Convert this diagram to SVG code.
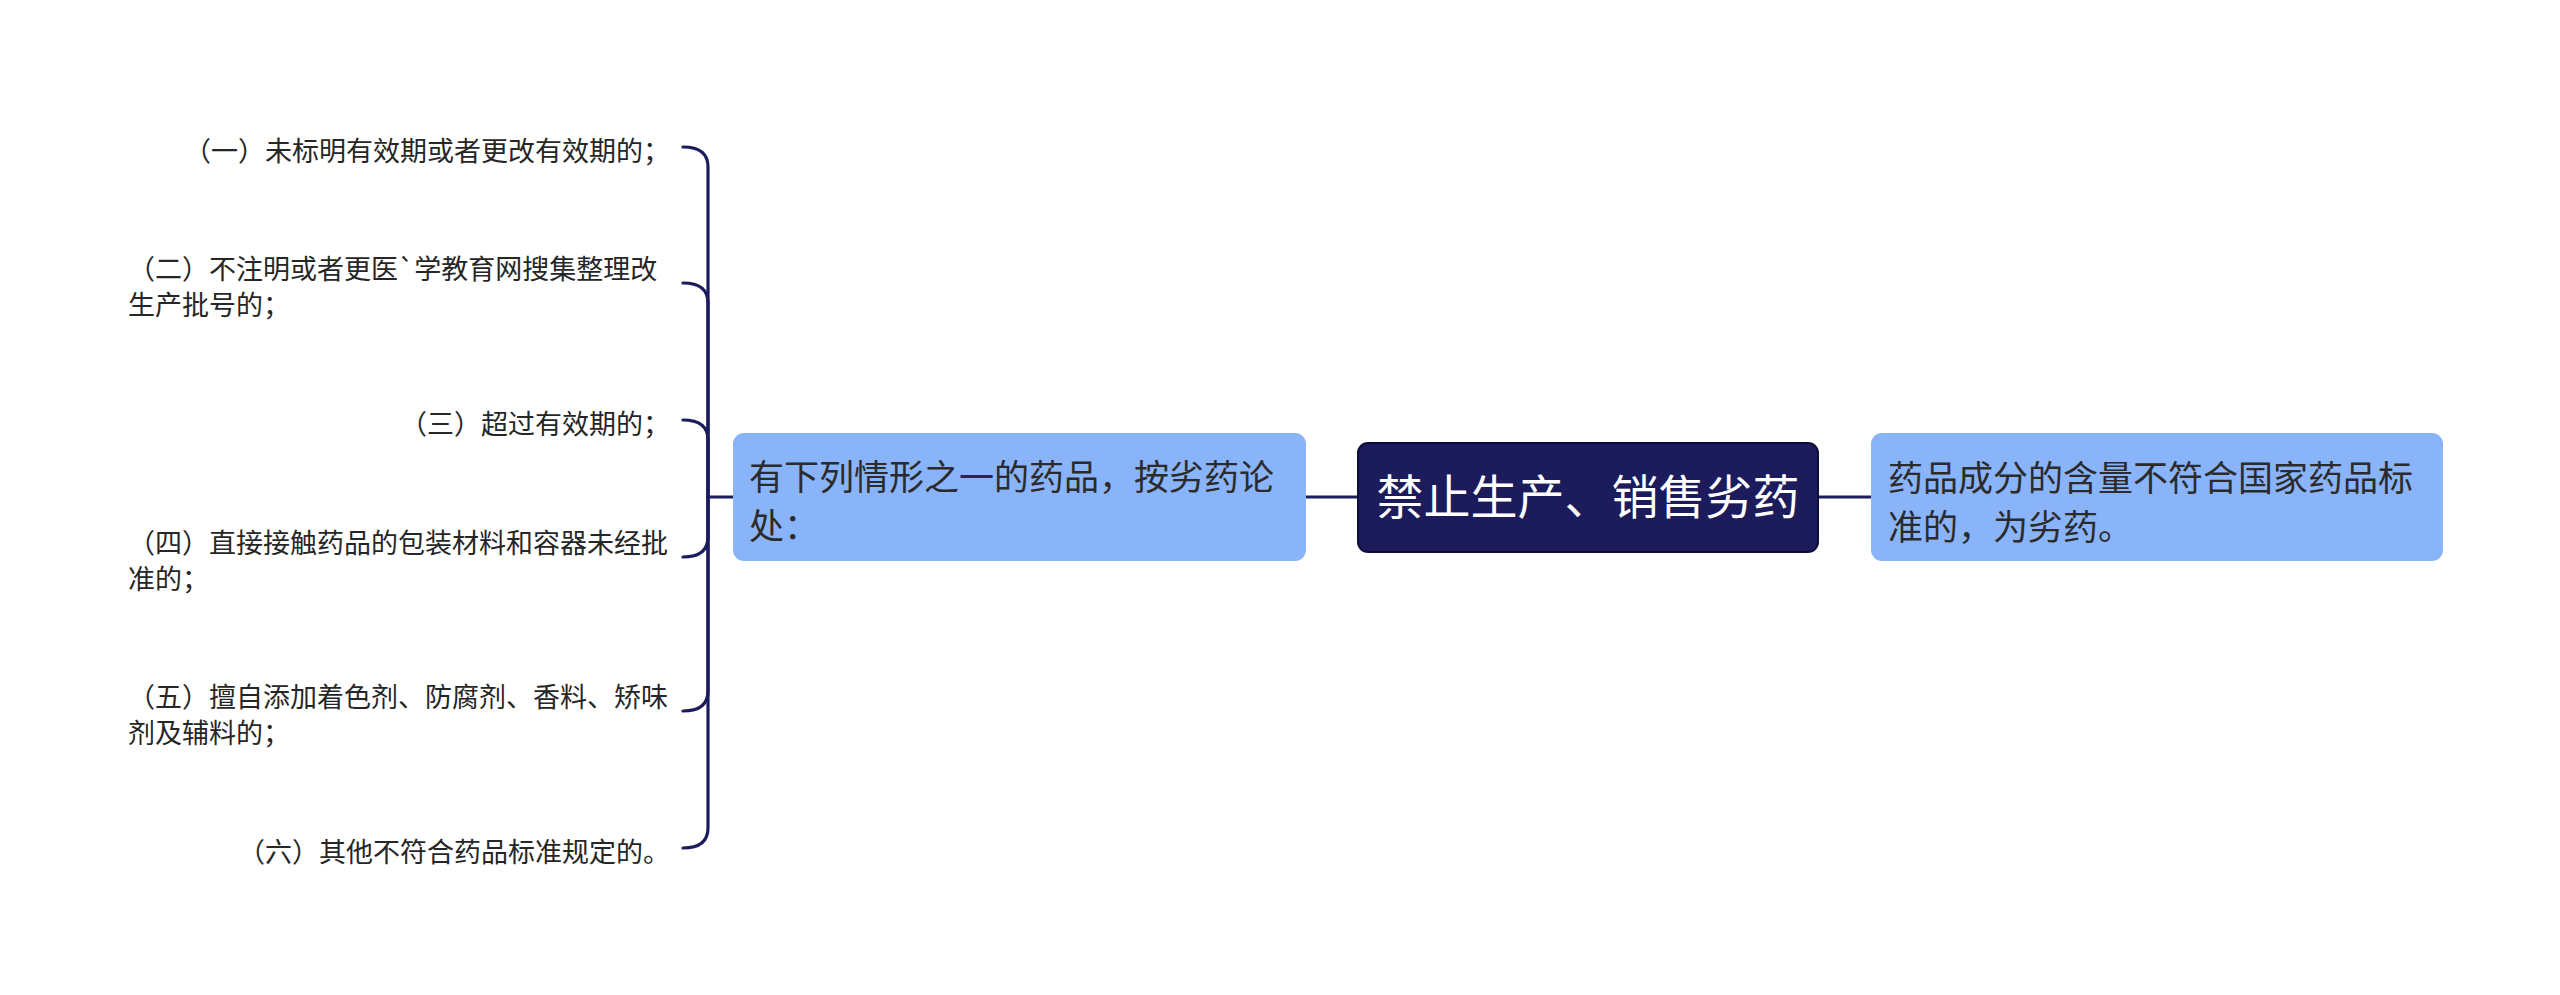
<svg xmlns="http://www.w3.org/2000/svg" width="2560" height="995" viewBox="0 0 2560 995">
<style>
.bg{fill:#ffffff}
.conn{fill:none;stroke:#1c1b5c;stroke-width:3.2;stroke-linecap:round}
.root{fill:#1c1b5c;stroke:#0e0d38;stroke-width:2}
.sub{fill:#8ab4fa}
.t{font-family:"Noto Sans CJK SC","Noto Sans",sans-serif}
.rt{font-size:47px;fill:#ffffff}
.st{font-size:35px;fill:#2b2b2b}
.lt{font-size:27px;fill:#262626}
</style>
<rect class="bg" x="0" y="0" width="2560" height="995"/>
<g id="connectors">
<line class="conn" x1="1306" y1="497" x2="1358" y2="497"/>
<line class="conn" x1="1818" y1="497" x2="1871" y2="497"/>
<line class="conn" x1="708" y1="497" x2="733" y2="497"/>
<path class="conn" d="M683,147 Q708,147 708,167 L708,497"/>
<path class="conn" d="M683,283 Q708,283 708,303 L708,497"/>
<path class="conn" d="M683,420 Q708,420 708,440 L708,497"/>
<path class="conn" d="M683,557 Q708,557 708,537 L708,497"/>
<path class="conn" d="M683,711 Q708,711 708,691 L708,497"/>
<path class="conn" d="M683,848 Q708,848 708,828 L708,497"/>
</g>
<g id="root">
<rect class="root" x="1358" y="443" width="460" height="109" rx="10"/>
<text class="t rt" x="1588" y="514" text-anchor="middle">禁止生产、销售劣药</text>
</g>
<g id="node-left">
<rect class="sub" x="733" y="433" width="573" height="128" rx="11"/>
<text class="t st" x="749" y="490">有下列情形之一的药品，按劣药论</text>
<text class="t st" x="749" y="539">处：</text>
</g>
<g id="node-right">
<rect class="sub" x="1871" y="433" width="572" height="128" rx="11"/>
<text class="t st" x="1888" y="491">药品成分的含量不符合国家药品标</text>
<text class="t st" x="1888" y="540">准的，为劣药。</text>
</g>
<g id="leaf-1">
<text class="t lt" x="670" y="161" text-anchor="end">（一）未标明有效期或者更改有效期的；</text>
</g>
<g id="leaf-2">
<text class="t lt" x="128" y="279">（二）不注明或者更医`学教育网搜集整理改</text>
<text class="t lt" x="128" y="315">生产批号的；</text>
</g>
<g id="leaf-3">
<text class="t lt" x="670" y="434" text-anchor="end">（三）超过有效期的；</text>
</g>
<g id="leaf-4">
<text class="t lt" x="128" y="553">（四）直接接触药品的包装材料和容器未经批</text>
<text class="t lt" x="128" y="589">准的；</text>
</g>
<g id="leaf-5">
<text class="t lt" x="128" y="707">（五）擅自添加着色剂、防腐剂、香料、矫味</text>
<text class="t lt" x="128" y="743">剂及辅料的；</text>
</g>
<g id="leaf-6">
<text class="t lt" x="670" y="862" text-anchor="end">（六）其他不符合药品标准规定的。</text>
</g>
</svg>
